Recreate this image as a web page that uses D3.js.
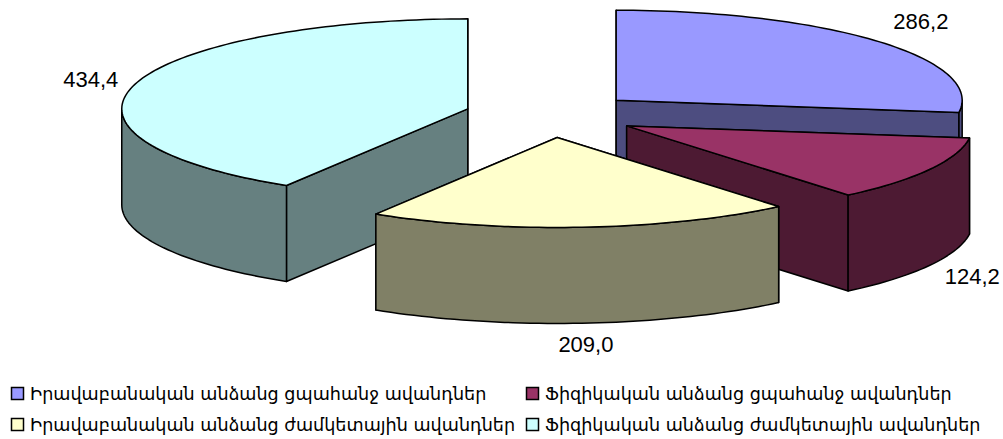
<!DOCTYPE html>
<html>
<head>
<meta charset="utf-8">
<script src="https://cdn.jsdelivr.net/npm/d3@7"></script>
<style>
  html, body { margin: 0; padding: 0; background: #fff; }
  svg { display: block; }
</style>
</head>
<body>
<div id="plot"></div>
<script>
const categories = [
    'Իրավաբանական անձանց ցպահանջ ավանդներ',
    'Ֆիզիկական անձանց ցպահանջ ավանդներ',
    'Իրավաբանական անձանց ժամկետային ավանդներ',
    'Ֆիզիկական անձանց ժամկետային ավանդներ'
];
const values = [286.2, 124.2, 209.0, 434.4];
const valueLabels = ['286,2', '124,2', '209,0', '434,4'];
const topColors = ['#9999ff', '#993366', '#ffffcc', '#ccffff'];
const sideColors = ['#4d4d80', '#4d1a33', '#808066', '#668080'];

const width = 1003;
const height = 439;
const center = {x: 551, y: 115};
const rx = 346;
const ry = 90;
const depth = 96;
const explode = 0.25;

// back to front, the slices overlap each other
const drawOrder = [0, 3, 1, 2];
const labelOffset = [[44, -12], [43, 114], [4, 125], [-44, 3]];

const svg = d3.select('#plot')
    .append('svg')
    .attr('width', width)
    .attr('height', height)
    .attr('viewBox', [0, 0, width, height]);

const slices = d3.pie().sort(null)(values);

const line = d3.line();

function project(s, angle, r, drop) {
    const mid = (s.startAngle + s.endAngle) / 2;
    const cx = center.x + explode * rx * Math.sin(mid);
    const cy = center.y - explode * ry * Math.cos(mid);
    return [cx + r * rx * Math.sin(angle), cy - r * ry * Math.cos(angle) + drop];
}

function arcAngles(a0, a1) {
    const n = Math.max(2, Math.ceil((a1 - a0) * 40));
    return d3.range(n + 1).map(i => a0 + (a1 - a0) * i / n);
}

function radialWall(s, angle) {
    return [
        project(s, angle, 0, 0),
        project(s, angle, 1, 0),
        project(s, angle, 1, depth),
        project(s, angle, 0, depth)
    ];
}

function addShape(g, pts, fill) {
    g.append('path')
        .attr('d', line(pts) + 'Z')
        .attr('fill', fill)
        .attr('stroke', '#000')
        .attr('stroke-width', 1.5)
        .attr('stroke-linejoin', 'round');
}

drawOrder.forEach(i => {
    const s = slices[i];
    const g = svg.append('g');

    const walls = [s.startAngle, s.endAngle]
        .sort((a, b) => project(s, a, 1, 0)[1] - project(s, b, 1, 0)[1]);
    walls.forEach(a => addShape(g, radialWall(s, a), sideColors[i]));

    // only the part of the rim that faces the viewer
    const a0 = Math.max(s.startAngle, Math.PI / 2);
    const a1 = Math.min(s.endAngle, Math.PI * 1.5);
    if (a1 > a0) {
        const angles = arcAngles(a0, a1);
        const rim = angles.map(a => project(s, a, 1, 0))
            .concat(angles.slice().reverse().map(a => project(s, a, 1, depth)));
        addShape(g, rim, sideColors[i]);
    }

    const topFace = [project(s, 0, 0, 0)]
        .concat(arcAngles(s.startAngle, s.endAngle).map(a => project(s, a, 1, 0)));
    addShape(g, topFace, topColors[i]);
});

slices.forEach((s, i) => {
    const mid = (s.startAngle + s.endAngle) / 2;
    const p = project(s, mid, 1, 0);
    svg.append('text')
        .attr('x', p[0] + labelOffset[i][0])
        .attr('y', p[1] + labelOffset[i][1])
        .attr('text-anchor', 'middle')
        .attr('font-family', '"Liberation Sans", Arial, sans-serif')
        .attr('font-size', 22)
        .attr('fill', '#000')
        .text(valueLabels[i]);
});

// legend, two rows and two columns
const legendX = d3.scaleOrdinal().domain([0, 1]).range([11, 526]);
const legendY = d3.scaleOrdinal().domain([0, 1]).range([387, 418]);

const legend = svg.selectAll('.legend')
    .data(categories)
    .join('g')
    .attr('class', 'legend')
    .attr('transform', (d, i) => `translate(${legendX(i % 2)},${legendY(i < 2 ? 0 : 1)})`);

legend.append('rect')
    .attr('x', 0.5)
    .attr('y', 0.5)
    .attr('width', 12)
    .attr('height', 12)
    .attr('fill', (d, i) => topColors[i])
    .attr('stroke', '#000')
    .attr('stroke-width', 1.5);

legend.append('text')
    .attr('x', 19)
    .attr('y', 13)
    .attr('font-family', '"DejaVu Sans", sans-serif')
    .attr('font-size', 17.6)
    .attr('fill', '#000')
    .text(d => d);
</script>
</body>
</html>
